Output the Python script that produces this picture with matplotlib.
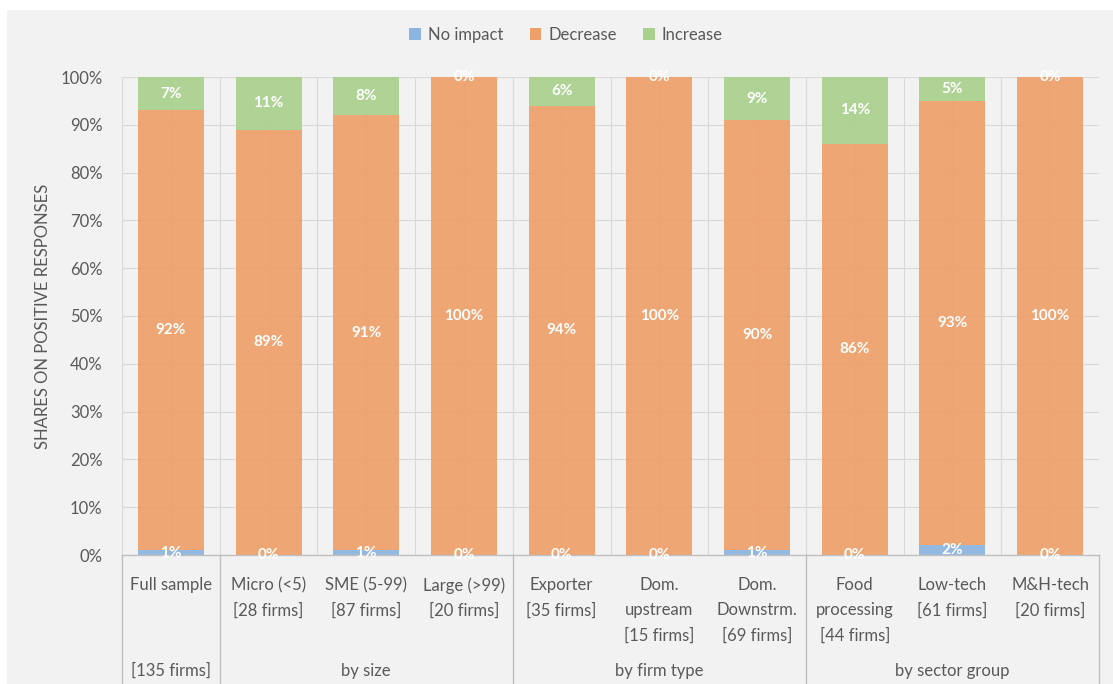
import matplotlib.pyplot as plt
from matplotlib.patches import Rectangle, Patch
from matplotlib.ticker import MultipleLocator, PercentFormatter

# shares of positive responses (%)
categories = [
    "Full sample",
    "Micro (<5)\n[28 firms]",
    "SME (5-99)\n[87 firms]",
    "Large (>99)\n[20 firms]",
    "Exporter\n[35 firms]",
    "Dom.\nupstream\n[15 firms]",
    "Dom.\nDownstrm.\n[69 firms]",
    "Food\nprocessing\n[44 firms]",
    "Low-tech\n[61 firms]",
    "M&H-tech\n[20 firms]",
]
no_impact = [1, 0, 1, 0, 0, 0, 1, 0, 2, 0]
decrease = [92, 89, 91, 100, 94, 100, 90, 86, 93, 100]
increase = [7, 11, 8, 0, 6, 0, 9, 14, 5, 0]

# outer category level: (label, first index, last index)
groups = [
    ("[135 firms]", 0, 0),
    ("by size", 1, 3),
    ("by firm type", 4, 6),
    ("by sector group", 7, 9),
]

BG = "#f2f2f2"
TXT = "#595959"
GRID = "#d9d9d9"
colors = {"No impact": "#8db5e0", "Decrease": "#eea06a", "Increase": "#a9d18e"}

plt.rcParams["font.family"] = ["Lato", "DejaVu Sans"]

W, H = 1113, 684
fig = plt.figure(figsize=(W / 100, H / 100), dpi=100, facecolor="white")
fig.patches.append(Rectangle((7 / W, 0), 1 - 7 / W, 1 - 10 / H,
                             transform=fig.transFigure, facecolor=BG,
                             edgecolor="none", zorder=-10))

x0, x1, y0, y1 = 122, 1099, 555, 77
ax = fig.add_axes([x0 / W, 1 - y0 / H, (x1 - x0) / W, (y0 - y1) / H])
ax.set_facecolor(BG)

n = len(categories)
xs = list(range(n))
ax.set_xlim(-0.5, n - 0.5)
ax.set_ylim(0, 100)

# horizontal grid every 10%, vertical lines at category edges and centres
for v in range(10, 101, 10):
    ax.axhline(v, color=GRID, lw=0.8, zorder=0)
for i in range(n):
    ax.axvline(i, color=GRID, lw=0.8, zorder=0)
    ax.axvline(i - 0.5, color=GRID, lw=0.8, zorder=0)
ax.axvline(n - 0.5, color=GRID, lw=0.8, zorder=0)

width = 0.675
bottom = [0] * n
for name, vals in [("No impact", no_impact), ("Decrease", decrease),
                   ("Increase", increase)]:
    ax.bar(xs, vals, width, bottom=bottom, color=colors[name], alpha=0.93,
           edgecolor="none", zorder=2)
    for i, v in enumerate(vals):
        ax.text(i, bottom[i] + v / 2, f"{v}%", ha="center", va="center",
                color="white", fontsize=11, fontweight="bold", zorder=4)
    bottom = [b + v for b, v in zip(bottom, vals)]

for s in ["top", "right", "left"]:
    ax.spines[s].set_visible(False)
ax.spines["bottom"].set_color("#bfbfbf")
ax.spines["bottom"].set_linewidth(1)

ax.yaxis.set_major_locator(MultipleLocator(10))
ax.yaxis.set_major_formatter(PercentFormatter(decimals=0))
ax.tick_params(axis="y", length=0, pad=14, labelsize=12, labelcolor=TXT)
ax.set_ylabel("SHARES ON POSITIVE RESPONSES", fontsize=12, color=TXT,
              labelpad=7)

ax.set_xticks(xs)
ax.set_xticklabels(categories, fontsize=12, color=TXT, linespacing=1.7,
                   va="top")
ax.tick_params(axis="x", length=0, pad=16)

# outer level labels and separators below the axis
tr = ax.get_xaxis_transform()
drop = -(H - y0) / (y0 - y1)
for label, a, b in groups:
    ax.text((a + b) / 2, -(671 - y0) / (y0 - y1), label, transform=tr,
            ha="center", va="center", fontsize=12, color=TXT)
edges = [-0.5] + [b + 0.5 for _, _, b in groups]
for e in edges:
    ax.plot([e, e], [0, drop], transform=tr, color="#bfbfbf", lw=1,
            clip_on=False, zorder=1)

handles = [Patch(facecolor=c, edgecolor="none", label=k)
           for k, c in colors.items()]
fig.legend(handles=handles, loc="center", bbox_to_anchor=(566 / W, 1 - 35 / H),
           ncol=3, frameon=False, fontsize=12, labelcolor=TXT,
           handlelength=0.7, handleheight=0.7, handletextpad=0.4,
           columnspacing=1.6)

fig.savefig("out.png", dpi=100, facecolor="white")
